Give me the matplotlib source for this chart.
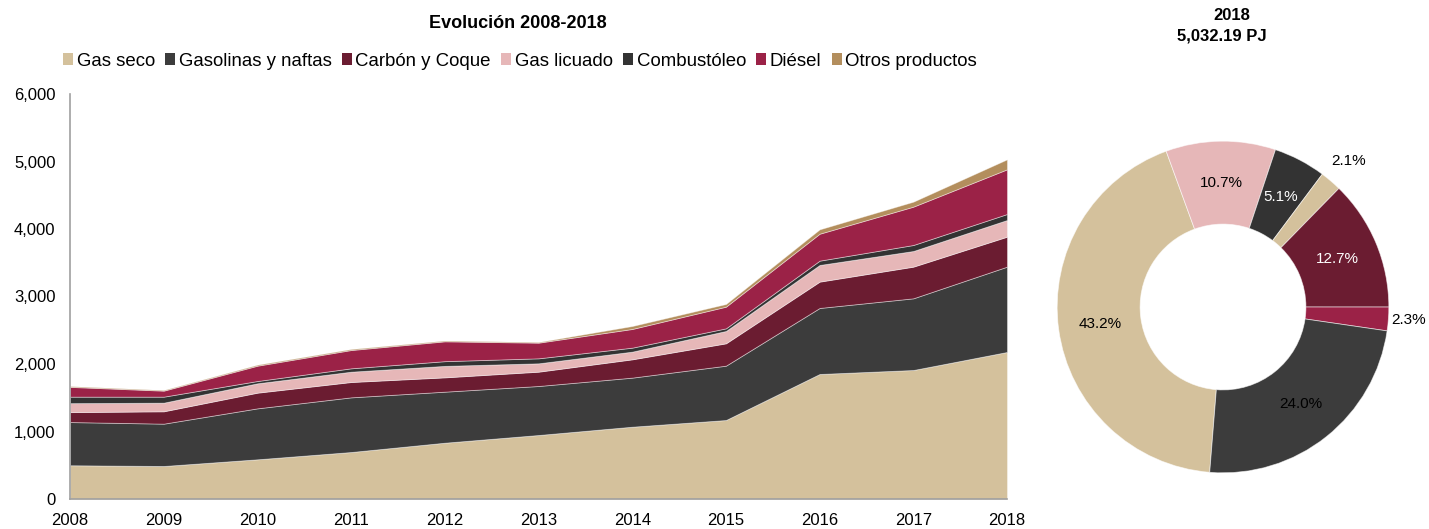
import matplotlib
matplotlib.use("Agg")
import matplotlib.pyplot as plt
import numpy as np
from matplotlib.patches import Patch
from matplotlib.ticker import FuncFormatter

plt.rcParams['font.family'] = ['Liberation Sans', 'DejaVu Sans']

# ---- data: energy consumption by fuel (PJ), 2008-2018 ----
years = [2008, 2009, 2010, 2011, 2012, 2013, 2014, 2015, 2016, 2017, 2018]
series_names = ["Gas seco", "Gasolinas y naftas", "Carbón y Coque", "Gas licuado",
                "Combustóleo", "Diésel", "Otros productos"]
gas_seco    = [500, 489, 588, 696, 834, 948, 1071, 1170, 1852, 1911, 2178]
gasolinas   = [640, 627, 755, 810, 756, 726, 727, 805, 978, 1062, 1264]
carbon      = [147, 183, 232, 227, 212, 212, 271, 331, 390, 469, 444]
gas_licuado = [133, 128, 139, 153, 170, 124, 114, 183, 247, 232, 247]
combustoleo = [96, 89, 34, 50, 70, 74, 59, 39, 64, 89, 89]
diesel      = [145, 89, 227, 271, 294, 232, 277, 321, 399, 568, 662]
otros       = [12, 10, 15, 15, 12, 10, 44, 40, 65, 74, 148]
series_colors = ["#D4C19C", "#3C3C3C", "#6B1C31", "#E6B7B8", "#333333", "#9B2247", "#B38E5D"]

yticks = [0, 1000, 2000, 3000, 4000, 5000, 6000]

# 2018 shares (%) for the doughnut, clockwise order
donut_shares = [43.2, 10.7, 5.1, 2.1, 12.7, 2.3, 24.0]
donut_colors = ["#D4C19C", "#E6B7B8", "#333333", "#D4C19C", "#6B1C31", "#9B2247", "#3C3C3C"]
donut_text_colors = ["black", "black", "white", "black", "white", "black", "black"]
donut_label_radius = [0.75, 0.75, 0.75, 1.16, 0.75, 1.12, 0.75]
donut_year = "2018"
donut_total = "5,032.19 PJ"

fig = plt.figure(figsize=(14.29, 5.29), dpi=100)

# ---- stacked area chart ----
ax = fig.add_axes([70 / 1429, 30 / 529, 937 / 1429, 405 / 529])
ax.stackplot(years, gas_seco, gasolinas, carbon, gas_licuado, combustoleo, diesel, otros,
             colors=series_colors, edgecolor=(1, 1, 1, 0.45), linewidth=0.6)
ax.set_xlim(years[0], years[-1])
ax.set_ylim(0, 6000)
ax.set_xticks(years)
ax.set_xticklabels([str(y) for y in years], fontsize=12)
ax.set_yticks(yticks)
ax.yaxis.set_major_formatter(FuncFormatter(lambda v, p: f"{int(v):,}"))
ax.tick_params(axis='y', labelsize=12, length=0, pad=10.5)
ax.tick_params(axis='x', length=0, pad=10)
for side in ("top", "right"):
    ax.spines[side].set_visible(False)
for side in ("left", "bottom"):
    ax.spines[side].set_color("#A0A0A0")
    ax.spines[side].set_linewidth(1.2)

fig.text(518 / 1429, 1 - 23 / 529, "Evolución 2008-2018", ha="center", va="center",
         fontsize=13, fontweight="bold")

handles = [Patch(facecolor=c, edgecolor="none") for c in series_colors]
fig.legend(handles, series_names, loc="center left", bbox_to_anchor=(63 / 1429, 1 - 61 / 529),
           ncol=7, frameon=False, fontsize=13.4, handlelength=0.55, handleheight=0.55,
           handletextpad=0.18, columnspacing=0.55, borderpad=0, borderaxespad=0)

# ---- doughnut chart for 2018 ----
ax2 = fig.add_axes([1024 / 1429, 23 / 529, 398 / 1429, 398 / 529])
wedges, _ = ax2.pie(donut_shares, colors=donut_colors, startangle=265.4, counterclock=False,
                    radius=1.0, wedgeprops=dict(width=0.5, edgecolor=(1, 1, 1, 0.6), linewidth=0.6))
for w, val, tc, r in zip(wedges, donut_shares, donut_text_colors, donut_label_radius):
    ang = np.deg2rad((w.theta1 + w.theta2) / 2)
    ax2.text(r * np.cos(ang), r * np.sin(ang), f"{val:.1f}%", ha="center", va="center",
             fontsize=11, color=tc)
ax2.set_xlim(-1.2, 1.2)
ax2.set_ylim(-1.2, 1.2)
ax2.set_aspect("equal")
ax2.axis("off")

fig.text(1232 / 1429, 1 - 15 / 529, donut_year, ha="center", va="center",
         fontsize=12, fontweight="bold")
fig.text(1222 / 1429, 1 - 36 / 529, donut_total, ha="center", va="center",
         fontsize=12, fontweight="bold")

fig.savefig("out.png", dpi=100)
